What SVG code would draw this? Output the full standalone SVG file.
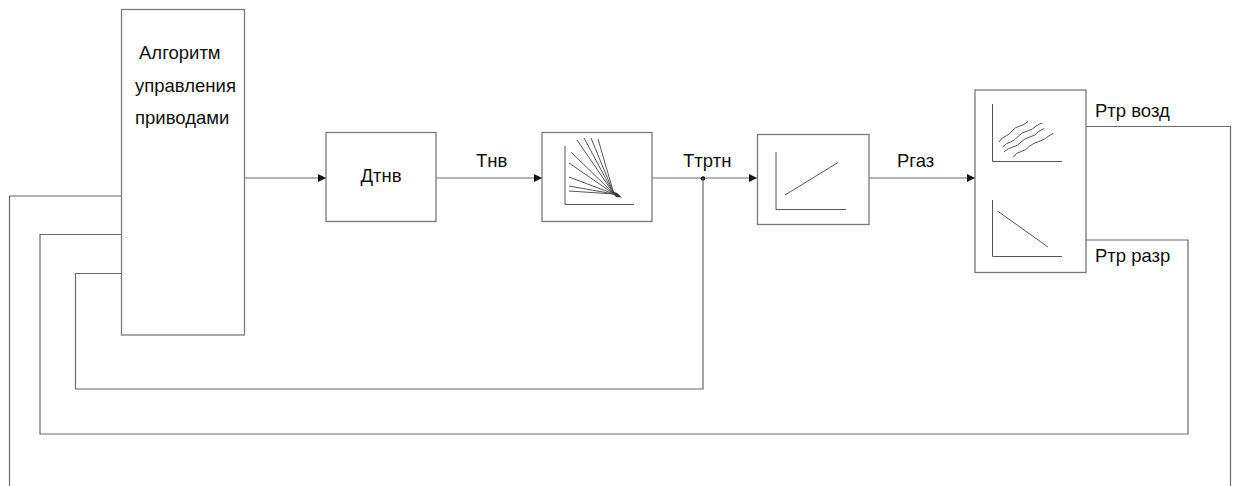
<svg xmlns="http://www.w3.org/2000/svg" width="1237" height="486" viewBox="0 0 1237 486">
<defs>
<style>
.box{fill:#fff;stroke:#7a7a7a;stroke-width:1.3}
.ln{fill:none;stroke:#6a6a6a;stroke-width:1.2}
.gr{fill:none;stroke:#555;stroke-width:1}
.t{font-family:"Liberation Sans",Arial,sans-serif;font-size:18.5px;fill:#111}
</style>
<marker id="arr" viewBox="0 0 10 10" refX="10" refY="5" markerWidth="9" markerHeight="8" markerUnits="userSpaceOnUse" orient="auto">
<path d="M0,0 L10,5 L0,10 z" fill="#111"/>
</marker>
</defs>
<rect width="1237" height="486" fill="#fff"/>

<g id="connectors">
<line class="ln" x1="245" y1="178" x2="326" y2="178" marker-end="url(#arr)"/>
<line class="ln" x1="436" y1="178" x2="542" y2="178" marker-end="url(#arr)"/>
<line class="ln" x1="652" y1="178" x2="757" y2="178" marker-end="url(#arr)"/>
<line class="ln" x1="869" y1="178" x2="975" y2="178" marker-end="url(#arr)"/>
<circle cx="703" cy="178.5" r="2.3" fill="#111"/>
<polyline class="ln" points="703,178 703,389 75.5,389 75.5,273.5 121.5,273.5"/>
<polyline class="ln" points="1086,240 1188,240 1188,434 40,434 40,234.5 121.5,234.5"/>
<polyline class="ln" points="1086,126.5 1230.5,126.5 1230.5,490"/>
<polyline class="ln" points="9.5,490 9.5,196 121.5,196"/>
<text class="t" x="476" y="166.5">Тнв</text>
<text class="t" x="683" y="167">Ттртн</text>
<text class="t" x="897" y="167">Pгаз</text>
<text class="t" x="1095" y="116.5">Ртр возд</text>
<text class="t" x="1095" y="261.5">Ртр разр</text>
</g>

<g id="algorithm">
<rect class="box" x="121.5" y="9.5" width="123" height="325.5"/>
<text class="t" x="139" y="58.5">Алгоритм</text>
<text class="t" x="135" y="91.5">управления</text>
<text class="t" x="135" y="123.5">приводами</text>
</g>

<g id="dtnv">
<rect class="box" x="326" y="132.5" width="110" height="89"/>
<text class="t" x="381" y="182" text-anchor="middle">Дтнв</text>
</g>

<g id="fan">
<rect class="box" x="542" y="132.5" width="110" height="89"/>
<polyline class="gr" points="565,146 565,204.5 634,204.5"/>
<g class="gr" stroke-width="0.9">
<line x1="614" y1="194" x2="598" y2="139"/>
<line x1="614" y1="194" x2="591" y2="138"/>
<line x1="614" y1="194" x2="584" y2="138"/>
<line x1="614" y1="194" x2="577" y2="140"/>
<line x1="614" y1="194" x2="571" y2="152"/>
<line x1="614" y1="194" x2="569" y2="163"/>
<line x1="614" y1="194" x2="569" y2="177"/>
<line x1="614" y1="194" x2="569" y2="186"/>
<line x1="614" y1="194" x2="569" y2="191"/>
</g>
<path d="M611,191 L617,193 L622,197.5 L616,197 Z" fill="#333"/>
</g>

<g id="linear">
<rect class="box" x="757.5" y="134.5" width="111.5" height="90"/>
<polyline class="gr" points="776,152 776,209.5 846,209.5"/>
<line class="gr" x1="785" y1="195" x2="838" y2="162.5"/>
</g>

<g id="pressure">
<rect class="box" x="975" y="90" width="111" height="182.5"/>
<polyline class="gr" points="992.5,104 992.5,161.5 1062,161.5"/>
<g class="gr" stroke-width="0.9">
<path d="M999,142 q3,-5 7,-6 q4,-2 6,-5 q3,-4 8,-5 q4,-1 8,-4.5"/>
<path d="M1002.5,147 q4,-4 8,-5 q5,-2 8,-6 q4,-4 9,-5 q6,-2 8,-4.5 q4,-3 7,-3.5"/>
<path d="M1004,152 q4,-4 9,-5 q5,-1 8,-5 q4,-4 9,-5 q6,-2 8,-5 q3,-2 6,-3.5"/>
<path d="M1013,157.5 q3,-5 8,-6 q5,-1 8,-5 q5,-4 10,-5 q6,-2 9,-5 q3,-2 5,-3"/>
</g>
<polyline class="gr" points="992.5,200 992.5,256.5 1062,256.5"/>
<line class="gr" x1="997.5" y1="211" x2="1048" y2="247"/>
</g>
</svg>
